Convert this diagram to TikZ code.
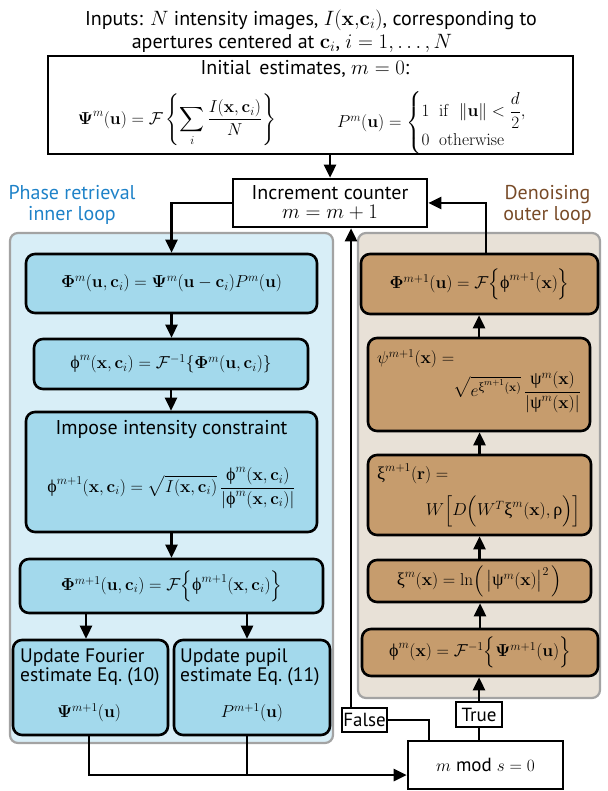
\documentclass[tikz,border=0pt]{standalone}
\usepackage{amsmath}
\usepackage[no-math]{fontspec}
\setmainfont{PT Sans}
\newfontfamily\grk{Liberation Serif}
\usetikzlibrary{arrows.meta,calc}
\definecolor{blueB}{HTML}{A3D9EC}
\definecolor{blueC}{HTML}{D8EEF7}
\definecolor{brownB}{HTML}{C69C6D}
\definecolor{brownC}{HTML}{E8E1D7}
\definecolor{contgray}{HTML}{A3A3A3}
\definecolor{phasetxt}{HTML}{1E82C8}
\definecolor{denotxt}{HTML}{784B28}
\newcommand\uph{\text{\grk\upshape ϕ}}
\newcommand\uxi{\text{\grk\upshape ξ}}
\newcommand\upsii{\text{\grk\upshape ψ}}
\newcommand\urho{\text{\grk\upshape ρ}}
\newcommand\bx{\mathbf{x}}
\newcommand\bu{\mathbf{u}}
\newcommand\bc{\mathbf{c}}
\newcommand\tx{\fontsize{20}{21}\selectfont}
\begin{document}
\begin{tikzpicture}[x=1pt,y=-1pt,
  font=\fontsize{18}{21}\selectfont,
  plain/.style={draw=black, line width=2.6pt, fill=white, inner sep=0pt, align=center},
  bbox/.style={plain, fill=blueB, rounded corners=9pt},
  rbox/.style={plain, fill=brownB, rounded corners=9pt},
  cont/.style={draw=contgray, line width=2.2pt, rounded corners=8pt, inner sep=0pt},
  ln/.style={line width=2.6pt},
  arr/.style={line width=2.6pt, -{Triangle[width=12pt,length=13pt]}},
  tf/.style={draw=black, line width=2.2pt, fill=white, inner sep=0pt, font=\fontsize{19}{21}\selectfont},
  lbl/.style={inner sep=0pt}]
\useasboundingbox (0,0) rectangle (607,791);
% containers
\node[cont, fill=blueC, minimum width=323pt, minimum height=510pt] (bluecont) at (171.5,488) {};
\node[cont, fill=brownC, minimum width=242pt, minimum height=465pt] (browncont) at (479,465.5) {};
% labels
\node[lbl, text=phasetxt, align=center, font=\tx] (plabel) at (72,205) {Phase retrieval\\inner loop};
\node[lbl, text=denotxt, align=center, font=\tx] (dlabel) at (547.5,205) {Denoising\\outer loop};
% inputs
\node[lbl, font=\tx] (in1) at (311,20) {Inputs: $N$ intensity images, $I(\bx,\!\bc_i)$, corresponding to};
\node[lbl, font=\tx] (in2) at (292,43) {apertures centered at $\bc_i$, $i=1,\ldots,N$};
% initial box
\node[plain, minimum width=525pt, minimum height=98pt] (init) at (310.5,105) {};
\node[lbl, font=\tx] (inittitle) at (305,69) {Initial\, estimates, $m=0$:};
\node[lbl] (initpsi) at (177,120) {$\displaystyle \mathbf{\Psi}^m(\bu) = \mathcal{F}\left\{\sum_i \frac{I(\bx,\bc_i)}{N}\right\}$};
\node[lbl] (initp) at (441,123) {$P^m(\bu) = \begin{cases} 1\ \ \mathrm{if}\ \ \|\bu\| < \dfrac{d}{2}, \\[2pt] 0\ \ \mathrm{otherwise}\end{cases}$};
% increment
\node[plain, minimum width=194pt, minimum height=48pt, font=\tx] (inc) at (330,203) {Increment counter\\[-2pt]$m=m+1$};
% blue boxes
\node[bbox, minimum width=291pt, minimum height=59pt] (b1) at (171.5,283.5) {$\mathbf{\Phi}^m(\bu,\bc_i) = \mathbf{\Psi}^m(\bu-\bc_i)P^m(\bu)$};
\node[bbox, minimum width=274pt, minimum height=50pt] (b2) at (171,364) {$\uph^m(\bx,\bc_i) = \mathcal{F}^{-1}\{\mathbf{\Phi}^m(\bu,\bc_i)\}$};
\node[bbox, minimum width=291pt, minimum height=120pt] (b3) at (171.5,472) {};
\node[lbl, font=\tx] (b3title) at (171.5,429) {Impose intensity constraint};
\node[lbl] (b3eq) at (171.5,488) {$\displaystyle \uph^{m+1}(\bx,\bc_i) = \sqrt{I(\bx,\bc_i)}\,\frac{\uph^m(\bx,\bc_i)}{\left|\uph^m(\bx,\bc_i)\right|}$};
\node[bbox, minimum width=303pt, minimum height=54pt] (b4) at (171.5,586) {$\mathbf{\Phi}^{m+1}(\bu,\bc_i) = \mathcal{F}\Bigl\{\uph^{m+1}(\bx,\bc_i)\Bigr\}$};
\node[bbox, minimum width=155pt, minimum height=95pt] (b5) at (90.5,687.5) {};
\node[lbl, anchor=west, align=left, font=\fontsize{19.5}{19.5}\selectfont] (b5t) at (20,667) {Update Fourier\\estimate Eq.~(10)};
\node[lbl] (b5m) at (89,713) {$\mathbf{\Psi}^{m+1}(\bu)$};
\node[bbox, minimum width=156pt, minimum height=95pt] (b6) at (252,687.5) {};
\node[lbl, anchor=west, align=left, font=\fontsize{19.5}{19.5}\selectfont] (b6t) at (180,667) {Update pupil\\estimate Eq.~(11)};
\node[lbl] (b6m) at (252,713) {$P^{m+1}(\bu)$};
% brown boxes
\node[rbox, minimum width=237pt, minimum height=60pt] (r5) at (479.5,284) {$\mathbf{\Phi}^{m+1}(\bu) = \mathcal{F}\Bigl\{\uph^{m+1}(\bx)\Bigr\}$};
\node[rbox, minimum width=222pt, minimum height=93pt] (r4) at (479,384.5) {};
\node[lbl, anchor=west] (r4a) at (377,359) {$\psi^{m+1}(\bx) =$};
\node[lbl, anchor=east] (r4b) at (581,392) {$\sqrt{e^{\uxi^{m+1}(\bx)}}\,\dfrac{\upsii^m(\bx)}{\left|\upsii^m(\bx)\right|}$};
\node[rbox, minimum width=223pt, minimum height=80pt] (r3) at (479.5,495) {};
\node[lbl, anchor=west] (r3a) at (377,474) {$\uxi^{m+1}(\mathbf{r}) =$};
\node[lbl, anchor=east] (r3b) at (581,511) {$W\Bigl[D\Bigl(W^T\uxi^m(\bx),\urho\Bigr)\Bigr]$};
\node[rbox, minimum width=223pt, minimum height=42pt] (r2) at (479.5,581) {$\uxi^m(\bx) = \ln\Bigl(\,\bigl|\upsii^m(\bx)\bigr|^2\,\Bigr)$};
\node[rbox, minimum width=236pt, minimum height=47pt] (r1) at (480,652.5) {$\uph^m(\bx) = \mathcal{F}^{-1}\Bigl\{\mathbf{\Psi}^{m+1}(\bu)\Bigr\}$};
% mod box and labels
\node[plain, minimum width=155pt, minimum height=48pt, font=\fontsize{19}{21}\selectfont] (mod) at (485.5,765) {$m$ mod $s=0$};
\node[tf, minimum width=46pt, minimum height=25pt] (true) at (479,714.5) {True};
\node[tf, minimum width=45pt, minimum height=24pt] (false) at (364.5,720) {False};
% connectors
\draw[arr] (init.south -| inc.north) -- (inc.north);
\draw[arr] (inc.west) -| (b1.north);
\draw[arr] (b1.south) -- (b1.south |- b2.north);
\draw[arr] (b2.south) -- (b2.south |- b3.north);
\draw[arr] (b3.south) -- (b3.south |- b4.north);
\draw[arr] ([xshift=-4.5pt]b5.north |- b4.south) -- ([xshift=-4.5pt]b5.north);
\draw[arr] ([xshift=-5pt]b6.north |- b4.south) -- ([xshift=-5pt]b6.north);
\draw[arr] ([xshift=-1.5pt]b5.south) |- ([yshift=-10pt]mod.west);
\draw[ln] ([xshift=-5pt]b6.south) -- ([xshift=-5pt]b6.south |- 0,775);
\draw[ln] (true.south |- mod.north) -- (true.south);
\draw[arr] (true.north) -- (true.north |- r1.south);
\draw[arr] (r1.north) -- (r1.north |- r2.south);
\draw[arr] (r2.north) -- (r2.north |- r3.south);
\draw[arr] (r3.north) -- (r3.north |- r4.south);
\draw[arr] (r4.north) -- (r4.north |- r5.south);
\draw[arr] ([xshift=6.5pt]r5.north) |- (inc.east);
\draw[ln] ([xshift=-56.5pt]mod.north) |- (false.east);
\draw[arr] ([xshift=-13.5pt]false.north) -- ([xshift=-13.5pt]false.north |- inc.south);
\end{tikzpicture}
\end{document}
